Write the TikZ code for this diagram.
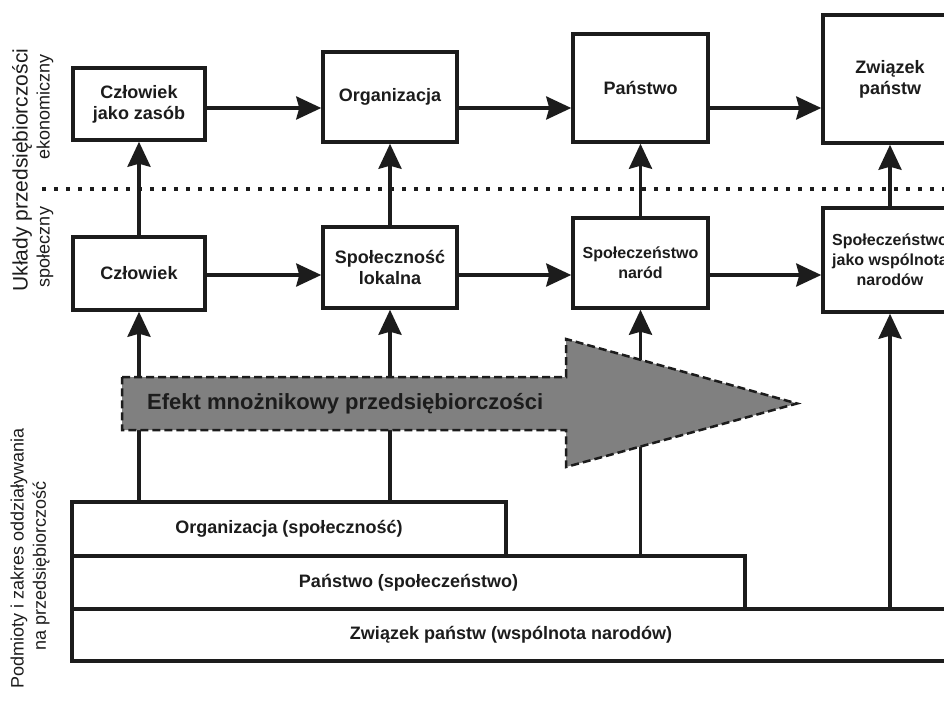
\documentclass[tikz,border=0pt]{standalone}
\usepackage{fontspec}
\setmainfont{Liberation Sans}
\usetikzlibrary{arrows.meta}
\definecolor{ink}{HTML}{1C1C1C}
\definecolor{effect}{HTML}{808080}
\begin{document}
\begin{tikzpicture}[x=1pt,y=-1pt,
  box/.style={draw=ink,line width=3.5pt,fill=white,inner sep=0pt,align=center,text=ink,
    font=\bfseries\fontsize{18}{21}\selectfont},
  small/.style={font=\bfseries\fontsize{16}{20}\selectfont},
  arr/.style={draw=ink,line width=3.5pt,-{Stealth[length=25pt,width=23pt,inset=3pt]}},
  side/.style={rotate=90,text=ink,inner sep=0pt,font=\fontsize{18}{21}\selectfont}]
\useasboundingbox (0,0) rectangle (944,722);
\clip (0,0) rectangle (944,722);
\coordinate (dl) at (42,189);
\coordinate (dr) at (944,189);
\coordinate (rowa) at (0,108);
\coordinate (rowb) at (0,275);
\draw[ink,line width=3.5pt,dash pattern=on 3.5pt off 8.5pt] (dl) -- (dr);
\node[side,font=\fontsize{21}{24}\selectfont] (ukl) at (22,170) {Układy przedsiębiorczości};
\node[side] (ekon) at (45,107) {ekonomiczny};
\node[side] (spol) at (45,247) {społeczny};
\node[side] (podm) at (19,558) {Podmioty i zakres oddziaływania};
\node[side] (napr) at (41,566) {na przedsiębiorczość};
\node[box,minimum width=132,minimum height=72] (zasob) at (139,104) {Człowiek\\jako zasób};
\node[box,minimum width=134,minimum height=90] (org) at (390,97) {Organizacja};
\node[box,minimum width=135,minimum height=108] (panstwo) at (640.5,88) {Państwo};
\node[box,minimum width=134,minimum height=128] (zwiazek) at (890,79) {Związek\\państw};
\node[box,minimum width=132,minimum height=73] (czlowiek) at (139,273.5) {Człowiek};
\node[box,minimum width=134,minimum height=81] (lokalna) at (390,267.5) {Społeczność\\lokalna};
\node[box,small,minimum width=135,minimum height=90] (narod) at (640.5,263) {Społeczeństwo\\naród};
\node[box,small,minimum width=134,minimum height=104] (wspolnota) at (890,260) {Społeczeństwo\\jako wspólnota\\narodów};
\node[box,minimum width=878,minimum height=52] (zwsp) at (511,635) {Związek państw (wspólnota narodów)};
\node[box,minimum width=673,minimum height=53] (pansp) at (408.5,582.5) {Państwo (społeczeństwo)};
\node[box,minimum width=434,minimum height=54] (orgsp) at (289,529) {Organizacja (społeczność)};
\draw[arr] (zasob.east |- rowa) -- (org.west |- rowa);
\draw[arr] (org.east |- rowa) -- (panstwo.west |- rowa);
\draw[arr] (panstwo.east |- rowa) -- (zwiazek.west |- rowa);
\draw[arr] (czlowiek.east |- rowb) -- (lokalna.west |- rowb);
\draw[arr] (lokalna.east |- rowb) -- (narod.west |- rowb);
\draw[arr] (narod.east |- rowb) -- (wspolnota.west |- rowb);
\draw[arr] (czlowiek) -- (zasob);
\draw[arr] (lokalna) -- (org);
\draw[arr] (narod) -- (panstwo);
\draw[arr] (wspolnota) -- (zwiazek);
\draw[arr] (orgsp.north -| czlowiek) -- (czlowiek);
\draw[arr] (orgsp.north -| lokalna) -- (lokalna);
\draw[arr] (pansp.north -| narod) -- (narod);
\draw[arr] (zwsp.north -| wspolnota) -- (wspolnota);
\draw[fill=effect,draw=ink,line width=2.5pt,dash pattern=on 8pt off 4pt,line join=miter]
  (122,377) -- (566,377) -- (566,339) -- (797,403.5) -- (566,467) -- (566,430) -- (122,430) -- cycle;
\node[anchor=west,inner sep=0pt,text=ink,font=\bfseries\fontsize{22}{26}\selectfont] (efekt) at (147,403.5) {Efekt mnożnikowy przedsiębiorczości};
\end{tikzpicture}
\end{document}
